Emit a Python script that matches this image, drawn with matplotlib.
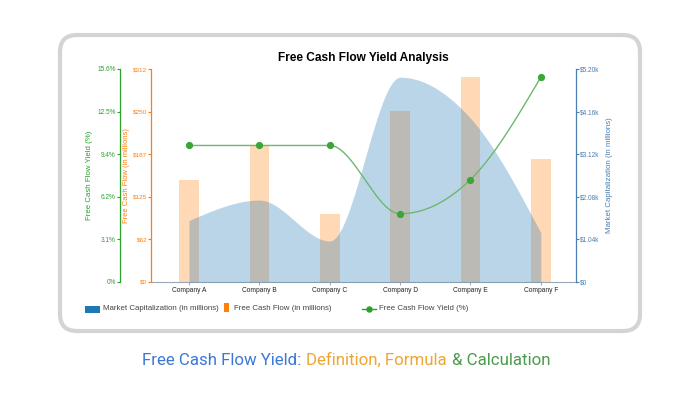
import numpy as np
import matplotlib
matplotlib.use('Agg')
import matplotlib.pyplot as plt
from matplotlib.patches import Rectangle, FancyBboxPatch
from matplotlib.lines import Line2D
import matplotlib.transforms as mtransforms

plt.rcParams['font.family'] = ['Liberation Sans', 'DejaVu Sans']

# data
companies = ['Company A', 'Company B', 'Company C', 'Company D', 'Company E', 'Company F']
market_cap = [1500, 2000, 1000, 5000, 4000, 1200]
free_cash_flow = [150, 200, 100, 250, 300, 180]
fcf_yield = [10.0, 10.0, 10.0, 5.0, 7.5, 15.0]

yield_ticks = [0, 3.12, 6.24, 9.36, 12.48, 15.6]
yield_labels = ['0%', '3.1%', '6.2%', '9.4%', '12.5%', '15.6%']
fcf_ticks = [0, 62.4, 124.8, 187.2, 249.6, 312]
fcf_labels = ['$0', '$62', '$125', '$187', '$250', '$312']
cap_ticks = [0, 1040, 2080, 3120, 4160, 5200]
cap_labels = ['$0', '$1.04k', '$2.08k', '$3.12k', '$4.16k', '$5.20k']

W, H = 698, 400
GREEN = '#2ca02c'
ORANGE = '#ff7f0e'
BLUE = '#1f77b4'
STEEL = '#4a7fb0'


def monotone_curve(xs, ys, n=40):
    """ monotone cubic (like d3.curveMonotoneX) """
    xs = np.asarray(xs, float)
    ys = np.asarray(ys, float)
    k = len(xs)
    h = np.diff(xs)
    s = np.diff(ys) / h
    t = np.zeros(k)
    for i in range(1, k - 1):
        p = (s[i - 1] * h[i] + s[i] * h[i - 1]) / (h[i - 1] + h[i])
        t[i] = (np.sign(s[i - 1]) + np.sign(s[i])) * min(abs(s[i - 1]), abs(s[i]), 0.5 * abs(p))
    t[0] = (3 * s[0] - t[1]) / 2
    t[-1] = (3 * s[-1] - t[-2]) / 2
    out_x, out_y = [], []
    for i in range(k - 1):
        u = np.linspace(0, 1, n)
        dx = h[i]
        p0 = (xs[i], ys[i])
        p1 = (xs[i] + dx / 3, ys[i] + dx * t[i] / 3)
        p2 = (xs[i + 1] - dx / 3, ys[i + 1] - dx * t[i + 1] / 3)
        p3 = (xs[i + 1], ys[i + 1])
        bx = (1 - u) ** 3 * p0[0] + 3 * (1 - u) ** 2 * u * p1[0] + 3 * (1 - u) * u ** 2 * p2[0] + u ** 3 * p3[0]
        by = (1 - u) ** 3 * p0[1] + 3 * (1 - u) ** 2 * u * p1[1] + 3 * (1 - u) * u ** 2 * p2[1] + u ** 3 * p3[1]
        out_x.extend(bx)
        out_y.extend(by)
    return np.array(out_x), np.array(out_y)


def fx(x):
    return x / W


def fy(y):
    return 1 - y / H


fig = plt.figure(figsize=(W / 100, H / 100), dpi=100)
fig.patch.set_facecolor('white')

# card around chart
pix = mtransforms.Affine2D().scale(1.0 / W, -1.0 / H).translate(0, 1) + fig.transFigure
card = FancyBboxPatch((60, 35), 580, 296, boxstyle='round,pad=0,rounding_size=17',
                      transform=pix, facecolor='white', edgecolor='#d4d4d4', linewidth=3.0,
                      zorder=0)
fig.patches.append(card)

rect = [fx(151), fy(282), 425 / W, 213 / H]
ax_fcf = fig.add_axes(rect, zorder=1)
ax_cap = fig.add_axes(rect, zorder=2)
ax_yld = fig.add_axes(rect, zorder=3)

x = np.arange(len(companies))
xlim = (-0.54, 5.5)

# bars
ax_fcf.bar(x, free_cash_flow, width=0.28, color=ORANGE, alpha=0.3, linewidth=0)
ax_fcf.set_xlim(xlim)
ax_fcf.set_ylim(0, 312)
ax_fcf.patch.set_visible(False)
ax_fcf.set_yticks(fcf_ticks)
ax_fcf.set_yticklabels(fcf_labels)
ax_fcf.tick_params(axis='y', colors=ORANGE, labelsize=4.6, length=2, width=0.8, pad=0.8)
ax_fcf.set_xticks(x)
ax_fcf.set_xticklabels(companies)
ax_fcf.tick_params(axis='x', colors='#999999', labelcolor='#222222', labelsize=4.8, length=2, width=0.6, pad=1.5)
for sp in ['top', 'right']:
    ax_fcf.spines[sp].set_visible(False)
ax_fcf.spines['left'].set_color(ORANGE)
ax_fcf.spines['left'].set_linewidth(0.9)
ax_fcf.spines['bottom'].set_color('#9aa7b4')
ax_fcf.spines['bottom'].set_linewidth(0.8)

# area
cx, cy = monotone_curve(x, market_cap)
ax_cap.fill_between(cx, 0, cy, color=BLUE, alpha=0.3, linewidth=0)
ax_cap.set_xlim(xlim)
ax_cap.set_ylim(0, 5200)
ax_cap.patch.set_visible(False)
ax_cap.yaxis.tick_right()
ax_cap.set_yticks(cap_ticks)
ax_cap.set_yticklabels(cap_labels)
ax_cap.tick_params(axis='y', colors=STEEL, labelsize=4.7, length=2, width=0.8, pad=1)
ax_cap.set_xticks([])
for sp in ['top', 'left', 'bottom']:
    ax_cap.spines[sp].set_visible(False)
ax_cap.spines['right'].set_color(STEEL)
ax_cap.spines['right'].set_linewidth(0.9)

# yield line
lx, ly = monotone_curve(x, fcf_yield)
ax_yld.plot(lx, ly, color='#6cb86c', linewidth=1.0)
ax_yld.plot(x, fcf_yield, linestyle='none', marker='o', markersize=4.2, color='#3aa63a')
ax_yld.set_xlim(xlim)
ax_yld.set_ylim(0, 15.6)
ax_yld.patch.set_visible(False)
ax_yld.set_yticks(yield_ticks)
ax_yld.set_yticklabels(yield_labels)
ax_yld.tick_params(axis='y', colors=GREEN, labelsize=4.7, length=2, width=0.8, pad=1)
ax_yld.set_xticks([])
for sp in ['top', 'right', 'bottom']:
    ax_yld.spines[sp].set_visible(False)
ax_yld.spines['left'].set_position(('outward', 31 * 0.72))
ax_yld.spines['left'].set_color(GREEN)
ax_yld.spines['left'].set_linewidth(0.9)

# axis titles
fig.text(fx(89.5), fy(175.5), 'Free Cash Flow Yield (%)', rotation=90, ha='center',
         va='center', fontsize=5.7, color=GREEN)
fig.text(fx(127), fy(175.5), 'Free Cash Flow (in millions)', rotation=90, ha='center',
         va='center', fontsize=5.5, color=ORANGE)
fig.text(fx(609.5), fy(175.5), 'Market Capitalization (in millions)', rotation=90, ha='center',
         va='center', fontsize=5.7, color=STEEL)

# title
fig.text(fx(363), fy(58), 'Free Cash Flow Yield Analysis', ha='center', va='center',
         fontsize=8.6, fontweight='bold', color='black')

# legend
fig.patches.append(Rectangle((85, 306), 15, 6.5, transform=pix, facecolor=BLUE, edgecolor='none'))
fig.text(fx(103), fy(309), 'Market Capitalization (in millions)', ha='left', va='center',
         fontsize=5.7, color='#444444')
fig.patches.append(Rectangle((224, 303), 5, 9, transform=pix, facecolor=ORANGE, edgecolor='none'))
fig.text(fx(234), fy(309), 'Free Cash Flow (in millions)', ha='left', va='center',
         fontsize=5.7, color='#444444')
fig.lines.append(Line2D([362, 376], [308.5, 308.5], transform=pix, color=GREEN, linewidth=1.0))
fig.lines.append(Line2D([369], [308.5], transform=pix, color=GREEN, marker='o', markersize=3.6))
fig.text(fx(379), fy(309), 'Free Cash Flow Yield (%)', ha='left', va='center',
         fontsize=5.7, color='#444444')

# bottom caption in three colours
parts = [('Free Cash Flow Yield: ', '#3b78d6'), ('Definition, Formula ', '#eea533'),
         ('& Calculation', '#4c9a4c')]
renderer = fig.canvas.get_renderer()
base = 12
widths = []
for s, c in parts:
    t = fig.text(0, 0, s, fontsize=base, family='Roboto')
    widths.append(t.get_window_extent(renderer).width)
    t.remove()
size = base * 409.0 / sum(widths)
widths = [w * size / base for w in widths]
start = 346 - sum(widths) / 2
pos = start
for (s, c), w in zip(parts, widths):
    fig.text(fx(pos), fy(365), s, fontsize=size, family='Roboto', color=c,
             ha='left', va='baseline')
    pos += w

fig.savefig('out.png', dpi=100, facecolor='white')
